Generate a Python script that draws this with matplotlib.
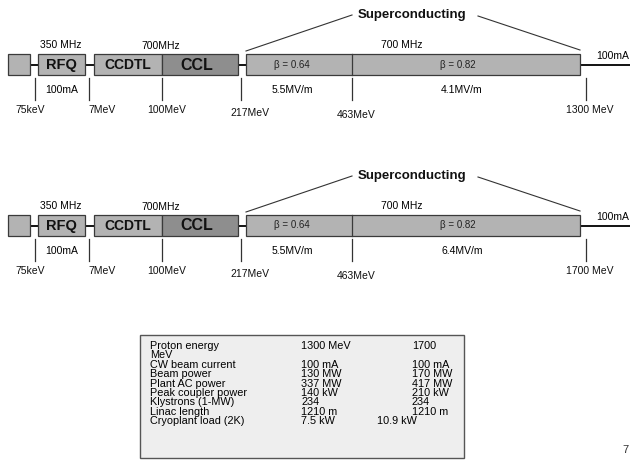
import matplotlib
matplotlib.use('Agg')
from matplotlib import pyplot as plt
from matplotlib.patches import Rectangle

# ---- diagram content ----
front_names = ['RFQ', 'CCDTL', 'CCL']
front_freqs = ['350 MHz', '700MHz']
sc_betas = ['\u03b2 = 0.64', '\u03b2 = 0.82']
sc_freq = '700 MHz'
beam_current = '100mA'
energies_common = ['75keV', '7MeV', '100MeV', '217MeV', '463MeV']
final_energies = ['1300 MeV', '1700 MeV']
gradients_low = ['5.5MV/m', '5.5MV/m']
gradients_high = ['4.1MV/m', '6.4MV/m']

# ---- parameter table ----
table_labels = ['Proton energy', 'MeV', 'CW beam current', 'Beam power',
                'Plant AC power', 'Peak coupler power', 'Klystrons (1-MW)',
                'Linac length', 'Cryoplant load (2K)']
col_1300 = ['1300 MeV', '', '100 mA', '130 MW', '337 MW', '140 kW',
            '234', '1210 m', '7.5 kW']
col_1700 = ['1700', '', '100 mA', '170 MW', '417 MW', '210 kW',
            '234', '1210 m', '10.9 kW']

FONT = 'Liberation Sans'
BOX = '#b3b3b3'
BOX_DARK = '#8e8e8e'
EDGE = '#3a3a3a'


def draw_linac(ax, y0, final_energy, grad_low, grad_high):
    """
      one linac layout, y0 is the top of the boxes (pixel coords)
    """
    h = 21
    yc = y0 + h / 2.
    # beam line
    ax.plot([30, 630], [yc, yc], color='k', lw=1.3, zorder=1,
            solid_capstyle='butt')
    # boxes: (x0, x1, colour)
    boxes = [(8, 30, BOX), (38, 85, BOX), (94, 162, BOX),
             (162, 238, BOX_DARK), (246, 580, BOX)]
    for x0, x1, col in boxes:
        ax.add_patch(Rectangle((x0, y0), x1 - x0, h, facecolor=col,
                               edgecolor=EDGE, lw=0.9, zorder=2))
    ax.plot([352, 352], [y0, y0 + h], color=EDGE, lw=0.9, zorder=3)

    # name, centre x, font size
    for name, xc, fs in zip(front_names, [61, 128, 197], [10.5, 10, 11.5]):
        ax.text(xc, yc + 0.5, name, ha='center', va='center', fontsize=fs,
                fontweight='bold', family=FONT, color='#111111', zorder=4)

    # energy ticks and labels
    tick_x = [35, 89, 162, 241, 352, 586]
    lab_x = [30, 102, 167, 250, 356, 590]
    lab_y = [56, 56, 56, 59, 61, 56]
    labels = energies_common + [final_energy]
    for tx, lx, ly, lab in zip(tick_x, lab_x, lab_y, labels):
        ax.plot([tx, tx], [y0 + 24, y0 + 46], color='#333333', lw=0.9)
        ax.text(lx, y0 + ly, lab, ha='center', va='center', fontsize=7.5,
                family=FONT, color='#111111')

    ax.text(61, y0 - 9, front_freqs[0], ha='center', va='center',
            fontsize=7.5, family=FONT)
    ax.text(161, y0 - 8, front_freqs[1], ha='center', va='center',
            fontsize=7.5, family=FONT)
    ax.text(62, y0 + 36, beam_current, ha='center', va='center',
            fontsize=7.5, family=FONT)
    ax.text(596, y0 + 2, beam_current, ha='left', va='center',
            fontsize=7.5, family=FONT)

    ax.text(292, yc, sc_betas[0], ha='center', va='center', fontsize=7,
            family=FONT, color='#222222', zorder=4)
    ax.text(458, yc, sc_betas[1], ha='center', va='center', fontsize=7,
            family=FONT, color='#222222', zorder=4)
    ax.text(292, y0 + 36, grad_low, ha='center', va='center',
            fontsize=7.5, family=FONT)
    ax.text(462, y0 + 36, grad_high, ha='center', va='center',
            fontsize=7.5, family=FONT)
    ax.text(402, y0 - 9, sc_freq, ha='center', va='center',
            fontsize=7.5, family=FONT)

    # superconducting bracket
    ax.text(412, y0 - 39, 'Superconducting', ha='center', va='center',
            fontsize=9.5, fontweight='bold', family=FONT, color='#111111')
    ax.plot([246, 352], [y0 - 3, y0 - 39], color='#333333', lw=0.8)
    ax.plot([478, 580], [y0 - 38, y0 - 4], color='#333333', lw=0.8)


if __name__ == "__main__":
    fig = plt.figure(figsize=(6.3, 4.62), dpi=100)
    ax = fig.add_axes([0, 0, 1, 1])
    ax.set_xlim(0, 630)
    ax.set_ylim(462, 0)
    ax.axis('off')

    for y0, fe, gl, gh in zip([54, 215], final_energies,
                              gradients_low, gradients_high):
        draw_linac(ax, y0, fe, gl, gh)

    # parameter table
    ax.add_patch(Rectangle((140, 335), 324, 123, facecolor='#eeeeee',
                           edgecolor='#555555', lw=1.0))
    for i, (lab, v1, v2) in enumerate(zip(table_labels, col_1300, col_1700)):
        y = 346 + 9.4 * i
        ax.text(150, y, lab, ha='left', va='center', fontsize=7.8,
                family=FONT)
        ax.text(301, y, v1, ha='left', va='center', fontsize=7.8,
                family=FONT)
        # last value sits off the column in the original
        x3 = 377 if i == len(table_labels) - 1 else 412
        ax.text(x3, y, v2, ha='left', va='center', fontsize=7.8,
                family=FONT)

    ax.text(622, 450, '7', ha='left', va='center', fontsize=8,
            family=FONT, color='#333333')

    fig.savefig('out.png', dpi=100)
